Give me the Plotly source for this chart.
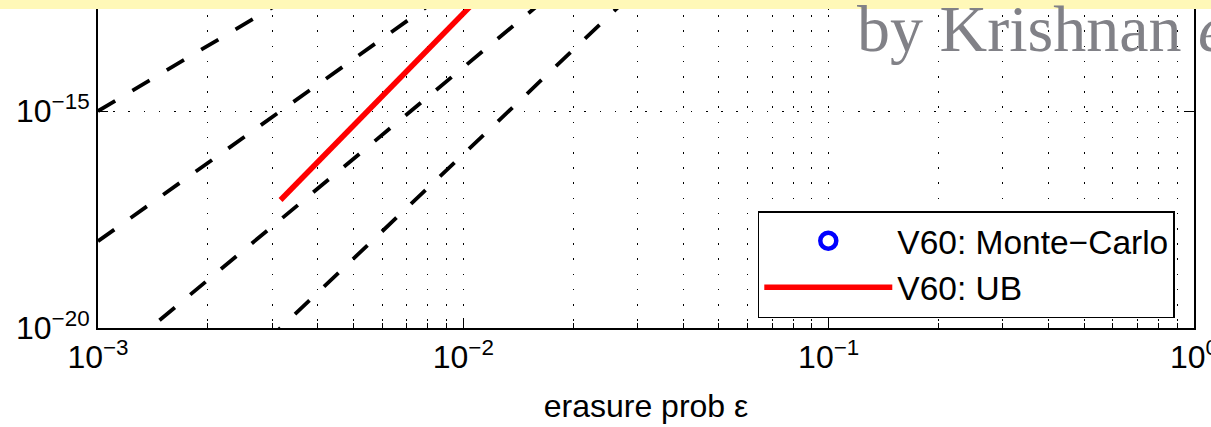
import plotly.graph_objects as go

# ---- data ----
# reference dashed slopes (straight in log-log), endpoints
ref5_x = [0.001, 0.01]
ref5_y = [1e-15, 1e-10]
ref6_x = [0.001, 0.01]
ref6_y = [1e-18, 1e-12]
ref7_x = [0.001, 0.02]
ref7_y = [1e-21, 1.3e-12]
ref8_x = [0.002, 0.03]
ref8_y = [2.6e-22, 6.6e-13]

# V60 upper bound
ub_x = [0.00316, 0.004, 0.005, 0.006, 0.008, 0.010, 0.012]
ub_y = [8.9e-18, 6.7e-17, 4.6e-16, 2.2e-15, 2.6e-14, 1.8e-13, 8.5e-13]

# V60 Monte-Carlo (no points inside the visible window)
mc_x = [None]
mc_y = [None]

x_tickvals = [1e-3, 1e-2, 1e-1, 1]
x_ticktext = ["10<sup>−3</sup>", "10<sup>−2</sup>", "10<sup>−1</sup>", "10<sup>0</sup>"]
y_tickvals = [1e-20, 1e-15]
y_ticktext = ["10<sup>−20</sup>", "10<sup>−15</sup>"]
x_minor = [m * 10 ** e for e in (-3, -2, -1) for m in range(2, 10)]

FONT = "Liberation Sans, Arial, sans-serif"
GRID_DASH = "1.5px,13.7px"

fig = go.Figure()
for xs, ys in [(ref5_x, ref5_y), (ref6_x, ref6_y), (ref7_x, ref7_y), (ref8_x, ref8_y)]:
    fig.add_trace(go.Scatter(x=xs, y=ys, mode="lines", showlegend=False,
                             line=dict(color="black", width=3.8, dash="20px,20px")))

fig.add_trace(go.Scatter(x=mc_x, y=mc_y, mode="markers", name="V60: Monte−Carlo",
                         marker=dict(symbol="circle-open", size=19, color="blue",
                                     line=dict(width=4.5, color="blue"))))
fig.add_trace(go.Scatter(x=ub_x, y=ub_y, mode="lines", name="V60: UB",
                         line=dict(color="red", width=5.5)))

fig.update_layout(
    width=1211, height=427,
    margin=dict(l=98, r=17, t=0, b=99),
    paper_bgcolor="white", plot_bgcolor="white",
    font=dict(family=FONT, size=32, color="black"),
    legend=dict(x=0.602, y=0.3567, xanchor="left", yanchor="top",
                bgcolor="white", bordercolor="black", borderwidth=1.5,
                itemwidth=128, font=dict(size=33.5), tracegroupgap=0),
    xaxis=dict(type="log", range=[-3, 0], tickvals=x_tickvals, ticktext=x_ticktext,
               ticks="inside", ticklen=10, tickwidth=1, tickcolor="black",
               ticklabeloverflow="allow",
               showline=True, linecolor="black", linewidth=2, mirror="ticks",
               showgrid=True, gridcolor="black", gridwidth=1, griddash=GRID_DASH,
               zeroline=False, automargin=False,
               minor=dict(tickvals=x_minor, ticks="inside", ticklen=5, tickcolor="black",
                          showgrid=True, gridcolor="black", gridwidth=1,
                          griddash=GRID_DASH),
               title=dict(text="erasure prob ε", font=dict(size=32), standoff=20)),
    yaxis=dict(type="log", range=[-20, -12.442], tickvals=y_tickvals, ticktext=y_ticktext,
               ticks="inside", ticklen=10, tickwidth=1, tickcolor="black",
               ticklabeloverflow="allow",
               showline=True, linecolor="black", linewidth=2, mirror="ticks",
               showgrid=True, gridcolor="black", gridwidth=1, griddash=GRID_DASH,
               zeroline=False, automargin=False),
)

# pale yellow highlight band across the top edge
fig.add_shape(type="rect", xref="paper", yref="paper", x0=-0.1, x1=1.1,
              y0=(328 - 9) / 328, y1=1.05, fillcolor="#FFF8B8", line=dict(width=0),
              layer="above")

fig.add_annotation(text="by Krishnan <i>et al.</i>", xref="paper", yref="paper",
                   x=0.6905, y=0.913, xanchor="left", yanchor="middle", showarrow=False,
                   font=dict(family="Liberation Serif, Times New Roman, serif", size=66,
                             color="#818187"))

fig.write_html("out.html", config={"displayModeBar": False},
               post_script="document.body.style.margin='0';document.body.style.overflow='hidden';")
